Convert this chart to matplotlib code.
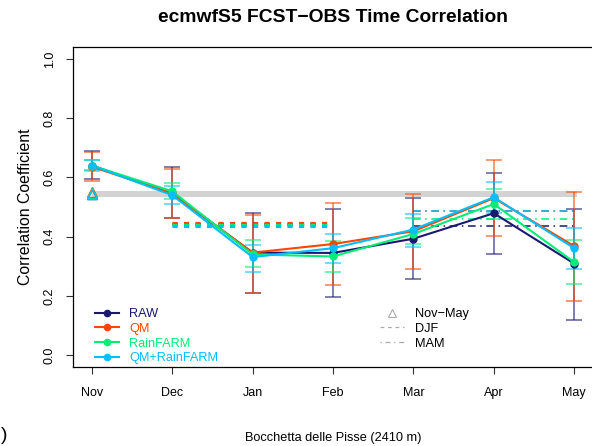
import matplotlib
matplotlib.use("Agg")
import matplotlib.pyplot as plt
from matplotlib.lines import Line2D
import numpy as np

plt.rcParams['font.family'] = ['Liberation Sans', 'DejaVu Sans']

months = ["Nov", "Dec", "Jan", "Feb", "Mar", "Apr", "May"]
series = ["RAW", "QM", "RainFARM", "QM+RainFARM"]
colors = ["#191970", "#FF4500", "#00EE76", "#00BFFF"]

raw = [0.640, 0.545, 0.346, 0.345, 0.393, 0.479, 0.309]
qm = [0.636, 0.546, 0.346, 0.375, 0.418, 0.530, 0.368]
rf = [0.640, 0.553, 0.340, 0.333, 0.409, 0.510, 0.314]
qmrf = [0.640, 0.540, 0.331, 0.361, 0.424, 0.533, 0.361]

raw_lo = [0.593, 0.462, 0.211, 0.197, 0.256, 0.340, 0.120]
raw_hi = [0.688, 0.635, 0.480, 0.493, 0.531, 0.616, 0.492]
qm_lo = [0.588, 0.462, 0.211, 0.237, 0.292, 0.402, 0.183]
qm_hi = [0.685, 0.628, 0.472, 0.513, 0.544, 0.658, 0.552]
rf_lo = [0.622, 0.526, 0.296, 0.279, 0.374, 0.458, 0.240]
rf_hi = [0.658, 0.580, 0.389, 0.386, 0.463, 0.560, 0.388]
qmrf_lo = [0.625, 0.509, 0.282, 0.310, 0.365, 0.481, 0.290]
qmrf_hi = [0.660, 0.571, 0.373, 0.410, 0.476, 0.586, 0.430]

novmay = [0.545, 0.551, 0.546, 0.544]
djf = [0.442, 0.447, 0.439, 0.437]
mam = [0.436, 0.488, 0.458, 0.485]
band_lo, band_hi = 0.535, 0.553

vals = [raw, qm, rf, qmrf]
los = [raw_lo, qm_lo, rf_lo, qmrf_lo]
his = [raw_hi, qm_hi, rf_hi, qmrf_hi]

fig = plt.figure(figsize=(5.92, 4.46), dpi=100)
ax = fig.add_axes([72.5/592, 1-367/446, (593.5-72.5)/592, (367-47)/446])
x = np.arange(1, len(months)+1)

ax.fill_between([1, 7.03], band_lo, band_hi, color="#D3D3D3", lw=0, zorder=1)

for c, d in zip(colors, djf):
    ax.plot([2, 4], [d, d], color=c, lw=2.3, ls=(0, (1.6, 2.0)), zorder=2)
for c, m in zip(colors, mam):
    ax.plot([5, 7], [m, m], color=c, lw=1.1, ls=(0, (5, 3, 1, 3)), zorder=2)

for c, v, lo, hi in zip(colors, vals, los, his):
    v = np.array(v); lo = np.array(lo); hi = np.array(hi)
    ax.errorbar(x, v, yerr=[v-lo, hi-v], fmt='none', ecolor=c, alpha=0.7,
                elinewidth=1.1, capsize=5.8, capthick=1.1, zorder=3)
for c, v in zip(colors, vals):
    ax.plot(x, v, color=c, lw=1.5, marker='o', ms=5, zorder=4)

for c, nm in zip(colors, novmay):
    ax.plot([1], [nm], marker='^', mfc='none', mec=c, ms=7, mew=1.0, ls='none', zorder=5)

ax.set_xlim(0.76, 7.24)
ax.set_ylim(-0.04, 1.04)
ax.set_xticks(x)
ax.set_xticklabels(months, fontsize=9)
ax.set_yticks([0, 0.2, 0.4, 0.6, 0.8, 1.0])
ax.set_yticklabels(["0.0", "0.2", "0.4", "0.6", "0.8", "1.0"], fontsize=9,
                   rotation=90, va='center')
ax.tick_params(axis='both', length=5, width=0.8, color='#333333')
ax.tick_params(axis='x', pad=9.5)
ax.tick_params(axis='y', pad=7)
ax.spines['right'].set_visible(False)
for s in ax.spines.values():
    s.set_linewidth(0.9)
ax.set_ylabel("Correlation Coefficient", fontsize=11.4, labelpad=8)

fig.text(333/592, 1-18/446, "ecmwfS5 FCST\u2212OBS Time Correlation", ha='center', va='center',
         fontsize=13.9, fontweight='bold')
fig.text(333/592, 1-438/446, "Bocchetta delle Pisse (2410 m)", ha='center', va='center', fontsize=9.2)
fig.text(7/592, 1-436/446, ")", ha='right', va='center', fontsize=14)

h1 = [Line2D([], [], color=c, lw=1.5, marker='o', ms=4.5) for c in colors]
leg1 = ax.legend(h1, series, loc='upper left', bbox_to_anchor=(22/521, 1-(308-47)/320),
                 frameon=False, fontsize=9.2, handlelength=1.9, handletextpad=0.8,
                 labelspacing=0.22, borderaxespad=0, borderpad=0)
for t, c in zip(leg1.get_texts(), colors):
    t.set_color(c)
ax.add_artist(leg1)

h2 = [Line2D([], [], color='#AAAAAA', marker='^', mfc='none', ls='none', ms=6, mew=0.8),
      Line2D([], [], color='#AAAAAA', lw=0.9, ls=(0, (3, 3))),
      Line2D([], [], color='#AAAAAA', lw=0.9, ls=(0, (1, 3, 4, 3)))]
leg2 = ax.legend(h2, ["Nov\u2212May", "DJF", "MAM"], loc='upper left',
                 bbox_to_anchor=((380-72.5)/521, 1-(308-47)/320),
                 frameon=False, fontsize=9.2, handlelength=1.9, handletextpad=0.8,
                 labelspacing=0.22, borderaxespad=0, borderpad=0)

fig.savefig("out.png", dpi=100)
